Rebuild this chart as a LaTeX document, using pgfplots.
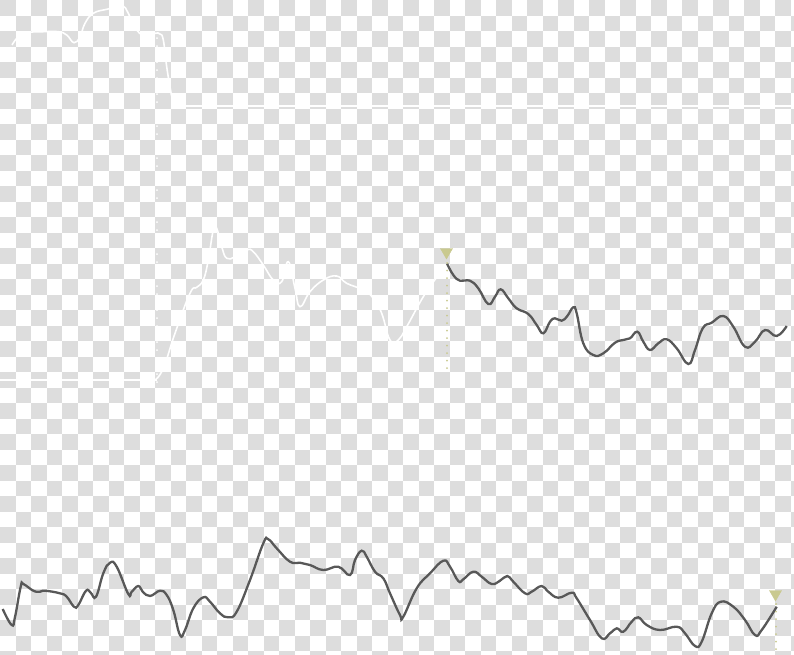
\documentclass[border=0pt]{standalone}
\usepackage{pgfplots}
\pgfplotsset{compat=1.18}
\usepgfplotslibrary{fillbetween}
\usetikzlibrary{patterns.meta}

\definecolor{chk}{RGB}{221,221,221}
\definecolor{linegray}{RGB}{88,88,88}
\definecolor{khaki}{RGB}{201,201,143}

% pixel positions, y measured downwards from the top edge
\pgfplotstableread{
x y
155 380
163.3 368.3
175 333.3
190 293.3
196.7 287.3
203.3 280
208.3 260
213.3 230
216.7 228.3
221.7 246.7
226.7 258.3
235 256.7
246.7 250
253.3 251.7
263.3 265
273.3 280
281.7 281.7
288.3 261.7
295 288.3
300 306.7
310 291.7
323.3 280
336.7 276
346.7 283.3
363.3 290
373.3 298.3
381.7 313.3
390 340
398.3 340
406.7 326.7
423.3 296.7
436.7 277.3
447 263.5
}\upperpast

\pgfplotstableread{
x y
447 263.5
453.3 275
460 280.7
470 280.7
478.3 288.3
488.3 304
495 296.7
500.7 289.3
508.3 298.3
516.7 308.3
528.3 314
536.7 325
543.3 333.3
550 321.7
555 318.3
561.7 320.7
567.3 316
573.3 307.3
576.7 313.3
583.3 343.3
593.3 355
603.3 353.3
615 342.7
623.3 340
630 338.3
637.3 331.7
643.3 341.7
650 350
658.3 343.3
666.7 339.3
676.7 348.3
688.3 364
695 350
702.7 328.3
711.7 322.7
723.3 316
733.3 326.7
745 346.7
755 341.7
765 330
776.7 336
786.7 326
}\upperfuture

\pgfplotstableread{
x y
12 45
20 35
30 32.3
43.3 31.7
58.3 31.7
66.7 35
74 42.7
80 36.7
85 23.3
93.3 13.3
106.7 9.3
116.7 7.3
123.3 6
128.3 13.3
136.7 30
146.7 36.7
155 33.3
160 34
163.3 40
166.7 66.7
170 86.7
172.7 100
176.7 106
}\overviewcurve

\pgfplotstableread{
x y
2.7 609
11.7 625
15 617
20.7 586.7
23.3 584
33.3 590.7
40 591.7
45 590.7
60 593.3
66.7 596.7
74 606.7
78.3 605
86 590.7
90.7 592.7
96 596.7
103.3 573.3
110 562.7
116.7 566.7
128.3 594
131.7 591.7
138.3 586
142.7 591.7
150 596
160 590.7
166.7 595
173.3 610
180 635
185 630
193.3 608.3
203.3 597.3
210 601.7
220 613.3
228.3 617.3
236.7 611.7
250 580
263.3 543.3
268.3 539.3
276.7 548.3
290 561.7
300 562.7
310 565
323.3 570
338.3 566.7
350 575
355 560
361.7 550.7
366.7 556.7
375 571.7
383.3 578.3
390 593.3
400 615
403.3 616.7
416.7 588.3
430 573.3
443.3 560.7
450 566.7
458.3 581
463.3 579.3
473.3 571.7
481.7 576.7
491.7 584
500 580.7
507.3 576
513.3 581.7
525 593.3
531.7 591.7
541.7 586
548.3 591.7
558.3 597.7
571.7 592.7
576.7 598.3
590 620
601.7 638.3
610 633.3
616.7 628.3
623.3 631.7
631.7 621.7
638.3 617.3
646.7 625
660 630
676.7 626.7
685 633.3
695 646
701.7 641.7
711.7 613.3
720.7 601.7
733.3 606.7
745 620
755 635
761.7 630
776.7 606.7
}\lowcurve

\begin{document}
\begin{tikzpicture}
\fill[white] (0,0) rectangle (794pt,-654pt);
\begin{scope}[overlay]
\clip (0,0) rectangle (794pt,-654pt);
\foreach \i in {0,...,51}{
  \foreach \j in {0,...,42}{
    \pgfmathtruncatemacro\cellpar{mod(\i+\j,2)}
    \ifnum\cellpar=0
      \fill[chk] (\i*15.5pt,-\j*15.5pt) rectangle ++(15.5pt,-15.5pt);
    \fi
  }
}
\end{scope}
\begin{axis}[
  at={(0,0)}, anchor=north west,
  scale only axis, width=794pt, height=654pt,
  xmin=0, xmax=794, ymin=0, ymax=654,
  y dir=reverse,
  axis lines=none, ticks=none,
  clip=true,
  hatch/.style={draw=none,
    pattern={Lines[angle=45,distance=5pt,line width=1.3pt]},
    pattern color=white, fill opacity=0.6},
  curve/.style={smooth, tension=0.75},
]
% hatched areas under the curves
\addplot[draw=none, curve, name path=upa] table[x=x,y=y] {\upperpast};
\addplot[draw=none, name path=upabase] coordinates {(155,395) (447,395)};
\addplot[hatch] fill between[of=upa and upabase];
\addplot[draw=none, curve, name path=upb] table[x=x,y=y] {\upperfuture};
\addplot[draw=none, name path=upbbase] coordinates {(447,395) (786.7,395)};
\addplot[hatch] fill between[of=upb and upbbase];

\addplot[draw=none, curve, name path=ov] table[x=x,y=y] {\overviewcurve};
\addplot[draw=none, name path=ovbase] coordinates {(12,110) (176.7,110)};
\addplot[hatch] fill between[of=ov and ovbase];

\addplot[draw=none, curve, name path=lo] table[x=x,y=y] {\lowcurve};
\addplot[draw=none, name path=lobase] coordinates {(2.7,654) (776.7,654)};
\addplot[hatch] fill between[of=lo and lobase];

% white guide lines
\addplot[white, line width=1.2pt] coordinates {(176,106) (794,106)};
\addplot[white, line width=1.2pt] coordinates {(0,380) (157,380)};
\addplot[white, line width=2pt, line cap=round, dash pattern=on 0pt off 8pt]
  coordinates {(157,38) (157,385)};

% curves
\addplot[white, line width=1.6pt, curve] table[x=x,y=y] {\overviewcurve};
\addplot[white, line width=1.6pt, curve] table[x=x,y=y] {\upperpast};
\addplot[linegray, line width=2.3pt, curve] table[x=x,y=y] {\upperfuture};
\addplot[linegray, line width=2.3pt, curve] table[x=x,y=y] {\lowcurve};

% current markers
\addplot[khaki, line width=2pt, line cap=round, dash pattern=on 0pt off 7.5pt]
  coordinates {(447,263) (447,372)};
\addplot[khaki, line width=2pt, line cap=round, dash pattern=on 0pt off 7.5pt]
  coordinates {(776,604) (776,654)};
\addplot[only marks, mark=triangle*, mark size=7pt, khaki,
  every mark/.append style={rotate=180}]
  coordinates {(446.5,252) (775.5,594)};
\end{axis}
\end{tikzpicture}
\end{document}
